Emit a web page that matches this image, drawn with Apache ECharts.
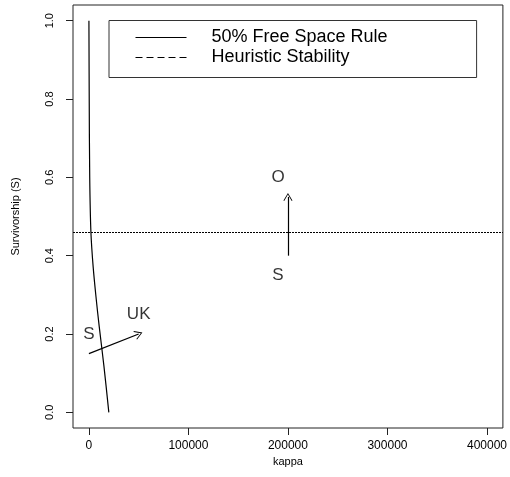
<!DOCTYPE html>
<html>
<head>
<meta charset="utf-8">
<script src="https://cdn.jsdelivr.net/npm/echarts@6/dist/echarts.min.js"></script>
<style>
  html, body { margin: 0; padding: 0; background: #fff; }
  #chart { width: 510px; height: 477px; }
</style>
</head>
<body>
<div id="chart"></div>
<script>
// 50% free space rule: kappa needed for each survivorship level
const curveKappa = [0, 300, 800, 2000, 4300, 7300, 10300, 15000, 20000];
const curveSurv  = [1.0, 0.8, 0.6, 0.46, 0.37, 0.29, 0.22, 0.12, 0.0];

// heuristic stability threshold (horizontal reference line)
const stabilityLevel = 0.463;

// movement arrows: start and end points (kappa, survivorship)
const arrowStartKappa = [0, 200000];
const arrowStartSurv  = [0.15, 0.40];
const arrowEndKappa   = [50000, 200000];
const arrowEndSurv    = [0.20, 0.55];

// point annotations
const noteText  = ['S', 'UK', 'O', 'S'];
const noteKappa = [0, 50000, 190000, 190000];
const noteSurv  = [0.20, 0.25, 0.60, 0.35];

// axis ticks
const kappaTicks = [0, 100000, 200000, 300000, 400000];
const survTicks  = [0, 0.2, 0.4, 0.6, 0.8, 1.0];

// data ranges padded by 4% on each side
const kappaMin = -16000, kappaMax = 416000;
const survMin = -0.04, survMax = 1.04;

const FONT = 'Liberation Sans, Arial, Helvetica, sans-serif';
const chevron = 'path://M0,0 L5,9 L4.2,9.6 L0,2 L-4.2,9.6 L-5,9 Z';

const chart = echarts.init(document.getElementById('chart'), null, { renderer: 'canvas' });

const curveData = curveKappa.map((k, i) => [k, curveSurv[i]]);
const arrowData = arrowStartKappa.map((k, i) => [
  { coord: [k, arrowStartSurv[i]] },
  { coord: [arrowEndKappa[i], arrowEndSurv[i]] }
]);
const noteData = noteText.map((t, i) => ({ name: t, value: [noteKappa[i], noteSurv[i]] }));

chart.setOption({
  animation: false,
  backgroundColor: '#fff',
  textStyle: { fontFamily: FONT, color: '#000' },
  grid: {
    left: 73, top: 5, right: 6, bottom: 49,
    show: true, borderColor: '#222', borderWidth: 1, backgroundColor: 'transparent'
  },
  legend: {
    left: 109, top: 20.5,
    orient: 'vertical',
    itemWidth: 51, itemHeight: 14, itemGap: 0,
    padding: [7, 89, 10, 26],
    borderColor: '#333', borderWidth: 1,
    selectedMode: false,
    textStyle: { fontFamily: FONT, fontSize: 18, color: '#000', lineHeight: 20, padding: [0, 0, 0, 20] },
    data: [
      { name: '50% Free Space Rule', icon: 'path://M0,0 L51,0 L51,1 L0,1 Z', itemStyle: { color: '#000' } },
      { name: 'Heuristic Stability', lineStyle: { type: [7, 4], width: 1, color: '#000' }, itemStyle: { opacity: 0 } }
    ]
  },
  xAxis: {
    type: 'value', min: kappaMin, max: kappaMax,
    name: 'kappa', nameLocation: 'middle', nameGap: 26,
    nameTextStyle: { fontFamily: FONT, fontSize: 11, color: '#000' },
    axisLine: { show: false, onZero: false },
    splitLine: { show: false },
    axisTick: { show: true, inside: false, customValues: kappaTicks, length: 7, lineStyle: { color: '#222' } },
    axisLabel: { customValues: kappaTicks, fontFamily: FONT, fontSize: 12, color: '#000', margin: 12,
                 formatter: v => String(v) }
  },
  yAxis: {
    type: 'value', min: survMin, max: survMax,
    name: 'Survivorship (S)', nameLocation: 'middle', nameGap: 52, nameRotate: 90,
    nameTextStyle: { fontFamily: FONT, fontSize: 11, color: '#000' },
    axisLine: { show: false, onZero: false },
    splitLine: { show: false },
    axisTick: { show: true, inside: false, customValues: survTicks, length: 7, lineStyle: { color: '#222' } },
    axisLabel: { customValues: survTicks, fontFamily: FONT, fontSize: 11, color: '#000', margin: 18,
                 rotate: 90, formatter: v => v.toFixed(1) }
  },
  series: [
    {
      name: '50% Free Space Rule',
      type: 'line',
      data: curveData,
      smooth: 0.3,
      symbol: 'none',
      lineStyle: { color: '#000', width: 1.2 }
    },
    {
      name: 'Heuristic Stability',
      type: 'line',
      data: [],
      symbol: 'none',
      lineStyle: { color: '#000', width: 1, type: [7, 4] },
      markLine: {
        silent: true,
        symbol: ['none', 'none'],
        label: { show: false },
        lineStyle: { color: '#000', width: 1, type: [2, 1] },
        data: [{ yAxis: stabilityLevel }]
      }
    },
    {
      name: 'moves',
      type: 'line',
      data: [],
      markLine: {
        silent: true,
        symbol: ['none', chevron],
        symbolSize: [9, 8],
        label: { show: false },
        lineStyle: { color: '#000', width: 1.2, type: 'solid' },
        itemStyle: { color: '#000' },
        data: arrowData
      }
    },
    {
      name: 'notes',
      type: 'scatter',
      data: noteData,
      symbolSize: 1,
      itemStyle: { color: 'transparent' },
      label: {
        show: true, position: 'inside',
        formatter: p => p.name,
        fontFamily: FONT, fontSize: 17, color: '#000'
      }
    }
  ]
});
</script>
</body>
</html>
